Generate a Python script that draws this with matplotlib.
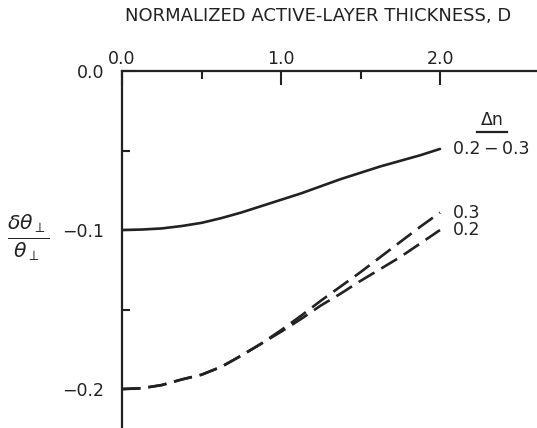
import matplotlib
matplotlib.use('Agg')
import matplotlib.pyplot as plt

# values
D = [0.0, 0.125, 0.25, 0.375, 0.5, 0.625, 0.75, 0.875, 1.0,
     1.125, 1.25, 1.375, 1.5, 1.625, 1.75, 1.875, 2.0]
solid_02_03 = [-0.100, -0.0997, -0.099, -0.0975, -0.0955, -0.0925, -0.089, -0.085, -0.081,
               -0.077, -0.0725, -0.068, -0.064, -0.060, -0.0565, -0.053, -0.049]
dash_03 = [-0.200, -0.1995, -0.1975, -0.194, -0.191, -0.186, -0.179, -0.1715, -0.163,
           -0.154, -0.1445, -0.1355, -0.1265, -0.117, -0.1075, -0.098, -0.089]
dash_02 = [-0.200, -0.1995, -0.1975, -0.194, -0.191, -0.186, -0.179, -0.1715, -0.164,
           -0.156, -0.1475, -0.140, -0.132, -0.1245, -0.117, -0.1085, -0.100]
curve_labels = ['0.2\u2009\u2212\u20090.3', '0.3', '0.2']

ink = '#222222'
plt.rcParams['font.family'] = ['DejaVu Sans']

fig = plt.figure(figsize=(5.37, 4.28), dpi=100)
ax = fig.add_axes([122 / 537, 0.0, 1 - 122 / 537, 1 - 71 / 428])

ax.plot(D, solid_02_03, color=ink, lw=1.9, solid_capstyle='round')
ax.plot(D, dash_03, color=ink, lw=1.9, dashes=(7, 3))
ax.plot(D, dash_02, color=ink, lw=1.9, dashes=(7, 3))

for ys, lab in zip([solid_02_03, dash_03, dash_02], curve_labels):
    ax.annotate(lab, xy=(D[-1], ys[-1]), xytext=(9, 0), textcoords='offset points',
                va='center', ha='left', fontsize=12.5, color=ink)

# delta-n header with underline
ax.text(2.33, -0.031, '\u0394n', ha='center', va='center', fontsize=12.5, color=ink)
ax.plot([2.235, 2.42], [-0.0385, -0.0385], color=ink, lw=1.6, clip_on=False)

ax.set_xlim(0, 2.61)
ax.set_ylim(-0.2245, 0)

for s in ['right', 'bottom']:
    ax.spines[s].set_visible(False)
for s in ['top', 'left']:
    ax.spines[s].set_linewidth(1.6)
    ax.spines[s].set_color(ink)

ax.xaxis.tick_top()
ax.set_xticks([0, 1, 2])
ax.set_xticks([0.5, 1.5], minor=True)
ax.set_xticklabels(['0.0', '1.0', '2.0'])
ax.set_yticks([0, -0.1, -0.2])
ax.set_yticks([-0.05, -0.15], minor=True)
ax.set_yticklabels(['0.0', '\u22120.1', '\u22120.2'])
ax.tick_params(which='major', direction='in', length=10, width=1.5, color=ink,
               labelsize=12.5, labelcolor=ink, pad=2)
ax.tick_params(which='minor', direction='in', length=6, width=1.5, color=ink)
ax.tick_params(axis='y', which='major', pad=13)

fig.text(318 / 537, 1 - 16 / 428, 'NORMALIZED ACTIVE-LAYER THICKNESS, D',
         ha='center', va='center', fontsize=13, color=ink)
fig.text(28 / 537, 1 - 238 / 428, r'$\frac{\delta\theta_\perp}{\theta_\perp}$',
         ha='center', va='center', fontsize=21, color=ink)

fig.savefig('out.png', dpi=100)
